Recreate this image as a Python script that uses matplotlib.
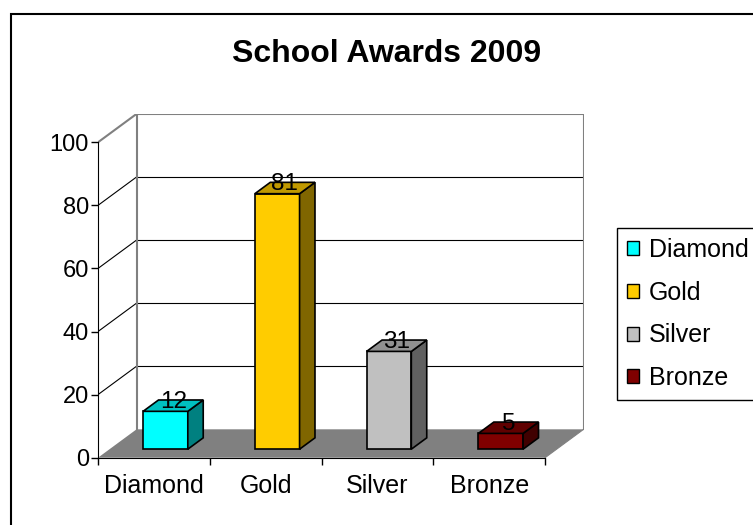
import matplotlib.pyplot as plt
from matplotlib.patches import Polygon, Patch, Rectangle

plt.rcParams['font.family'] = ['Liberation Sans', 'DejaVu Sans']

categories = ['Diamond', 'Gold', 'Silver', 'Bronze']
values = [12, 81, 31, 5]
front_colors = ['#00FFFF', '#FFCC00', '#C0C0C0', '#800000']
side_colors = ['#008080', '#806600', '#606060', '#400000']
top_colors = ['#00C0C0', '#C09900', '#909090', '#600000']
title = 'School Awards 2009'

# oblique 3d offset, in data units
DX = 0.345
DY = 9.0
f0, f1 = 0.3, 0.7      # bar front/back depth fractions
bw = 0.4               # bar width

W, H = 753, 525
fig = plt.figure(figsize=(W / 100, H / 100), dpi=100)
ax = fig.add_axes([98 / W, (H - 457.7) / H, 485.6 / W, 343.8 / H])
ax.set_xlim(0, 4 + DX)
ax.set_ylim(0, 100 + DY)
n = len(categories)

# floor
ax.add_patch(Polygon([(0, 0), (n, 0), (n + DX, DY), (DX, DY)],
                     closed=True, facecolor='#808080', edgecolor='none', zorder=1))
# walls and gridlines
for v in range(20, 101, 20):
    c = '#808080' if v == 100 else 'black'
    lw = 1.5 if v == 100 else 0.8
    ax.plot([DX, n + DX], [v + DY, v + DY], color=c, lw=lw, zorder=1)
    ax.plot([0, DX], [v, v + DY], color=c, lw=lw, zorder=1)
ax.plot([DX, DX], [DY, 100 + DY], color='#808080', lw=1.5, zorder=1)
ax.plot([n + DX, n + DX], [DY, 100 + DY], color='#808080', lw=1.5, zorder=1)
ax.plot([n, n + DX], [0, DY], color='#808080', lw=0.8, zorder=1)

# bars
for i, v in enumerate(values):
    xl = i + 0.5 - bw / 2 + f0 * DX
    xr = xl + bw
    y0 = f0 * DY
    ddx = (f1 - f0) * DX
    ddy = (f1 - f0) * DY
    kw = dict(closed=True, edgecolor='black', lw=1.2, zorder=3)
    ax.add_patch(Polygon([(xl, y0), (xr, y0), (xr, y0 + v), (xl, y0 + v)],
                         facecolor=front_colors[i], **kw))
    ax.add_patch(Polygon([(xr, y0), (xr + ddx, y0 + ddy), (xr + ddx, y0 + ddy + v), (xr, y0 + v)],
                         facecolor=side_colors[i], **kw))
    ax.add_patch(Polygon([(xl, y0 + v), (xr, y0 + v), (xr + ddx, y0 + ddy + v), (xl + ddx, y0 + ddy + v)],
                         facecolor=top_colors[i], **kw))
    ax.text(i + 0.5 + 0.5 * DX, v + 0.42 * DY, str(v), ha='center', va='baseline',
            fontsize=17.5, zorder=4)

# axes spines / ticks
for s in ['top', 'right']:
    ax.spines[s].set_visible(False)
ax.spines['left'].set_bounds(0, 100)
ax.spines['bottom'].set_bounds(0, n)
ax.spines['left'].set_zorder(2)
ax.spines['bottom'].set_zorder(2)
ax.set_yticks(range(0, 101, 20))
ax.tick_params(axis='y', length=5, width=1, pad=1.5, labelsize=17)
ax.set_xticks(range(n + 1))
ax.set_xticklabels([])
ax.set_xticks([i + 0.5 for i in range(n)], minor=True)
ax.set_xticklabels(categories, minor=True)
ax.tick_params(axis='x', which='major', length=5, width=1)
ax.tick_params(axis='x', which='minor', length=0, pad=12, labelsize=18)
ax.patch.set_visible(False)

fig.text(387 / W, 1 - 54 / H, title, ha='center', va='center',
         fontsize=23, fontweight='bold')

handles = [Patch(facecolor=c, edgecolor='black', lw=1) for c in front_colors]
leg = fig.legend(handles, categories, loc='upper left',
                 bbox_to_anchor=(617 / W, 1 - 228 / H), fontsize=18,
                 frameon=True, fancybox=False, edgecolor='black', framealpha=1,
                 handlelength=0.48, handleheight=0.48, handletextpad=0.4,
                 labelspacing=0.75, borderpad=0.4, borderaxespad=0)
leg.get_frame().set_linewidth(1)

# outer chart border (runs off the right and bottom edges)
fig.patches.append(Rectangle((10.5 / W, -0.05), 1.2, 1 - 13.5 / H + 0.05,
                             transform=fig.transFigure, fill=False,
                             edgecolor='black', lw=1.5))

fig.savefig('out.png', dpi=100)
